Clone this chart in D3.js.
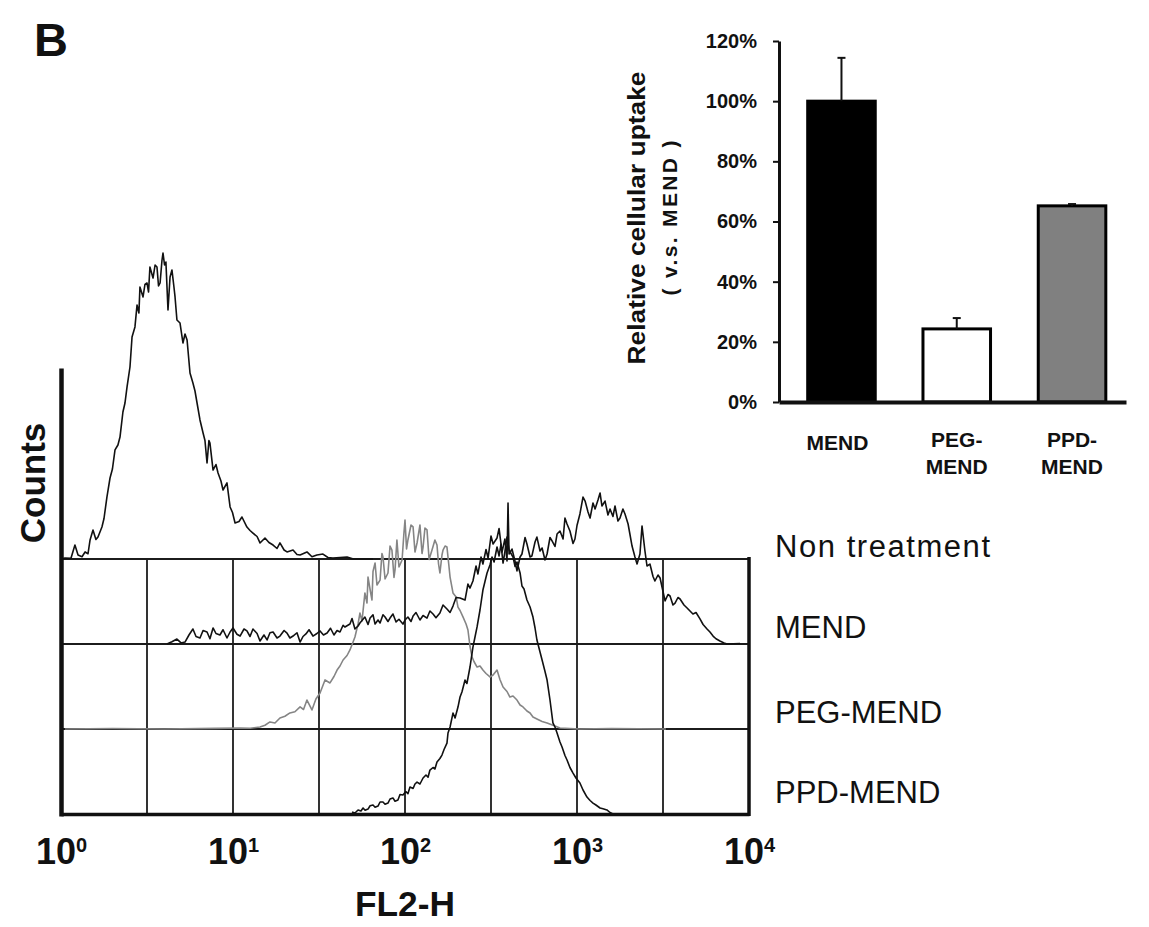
<!DOCTYPE html>
<html>
<head>
<meta charset="utf-8">
<script src="https://cdn.jsdelivr.net/npm/d3@7"></script>
<style>
  body { margin: 0; background: #fff; }
  svg { display: block; font-family: "Liberation Sans", Arial, sans-serif; }
</style>
</head>
<body>
<div id="figure"></div>
<script>
// ---- flow cytometry histograms: [log10(FL2-H), counts] ----
const traceNames = ["Non treatment", "MEND", "PEG-MEND", "PPD-MEND"];
const decades = [0, 1, 2, 3, 4];

const nonTreatment = [[0.000,0],[0.023,0.7],[0.058,0.5],[0.081,9.3],[0.099,2.7],[0.122,1.5],[0.140,4.7],[0.157,3.5],[0.169,12.7],[0.186,19.3],[0.203,13],[0.215,14.7],[0.238,21.3],[0.250,27],[0.267,41.3],[0.285,54],[0.299,60],[0.314,72.7],[0.331,76],[0.343,81.3],[0.360,98],[0.372,104],[0.384,114.7],[0.401,128],[0.413,148],[0.430,154.7],[0.442,169.3],[0.453,164],[0.459,181.3],[0.477,174.7],[0.488,183],[0.500,184],[0.509,178],[0.517,194.7],[0.535,187.3],[0.547,196],[0.558,194.7],[0.567,182],[0.576,184],[0.587,199],[0.593,204],[0.602,196],[0.610,198],[0.622,166],[0.634,188],[0.645,192.7],[0.657,181],[0.663,174.7],[0.674,159.3],[0.692,157.3],[0.709,144],[0.721,150],[0.733,146],[0.750,124],[0.767,117.3],[0.779,112],[0.791,104],[0.808,92.7],[0.826,84],[0.837,79],[0.849,64],[0.860,79],[0.866,77.3],[0.884,59.3],[0.901,63],[0.913,57.3],[0.930,52],[0.942,46],[0.965,50.7],[0.983,34.7],[0.997,31],[1.012,24],[1.035,25],[1.052,28],[1.081,21.3],[1.099,19],[1.116,17.3],[1.140,15],[1.157,10.7],[1.186,14],[1.209,11],[1.233,9.3],[1.256,7],[1.273,10.7],[1.297,6],[1.314,4.7],[1.349,6],[1.372,3],[1.390,2.7],[1.430,4.7],[1.459,1.5],[1.488,2.7],[1.523,3.3],[1.552,1],[1.581,0.7],[1.663,1.3],[1.700,0],[1.814,0]];

const mend = [[0.616,0],[0.645,1.5],[0.674,3.3],[0.698,0.7],[0.721,1.3],[0.744,6],[0.767,10],[0.785,5],[0.808,4],[0.826,9],[0.849,8],[0.866,3.5],[0.884,10.7],[0.901,7],[0.924,6],[0.942,9.5],[0.965,4],[0.983,8],[1.000,10.7],[1.023,6.5],[1.041,5.3],[1.064,10],[1.081,8.7],[1.099,5],[1.116,10],[1.140,7],[1.157,2],[1.180,6],[1.198,2.7],[1.215,7.5],[1.233,8],[1.256,4],[1.273,5.3],[1.297,9],[1.314,7.3],[1.331,4],[1.349,5.3],[1.372,7.5],[1.390,1.3],[1.407,5],[1.424,6.7],[1.442,9.5],[1.465,5.3],[1.488,7],[1.506,8.7],[1.526,6],[1.547,7.3],[1.567,10.5],[1.587,6],[1.605,9],[1.622,8],[1.640,12.5],[1.651,11.3],[1.680,13.3],[1.692,17],[1.709,10],[1.727,12],[1.738,14],[1.756,16.5],[1.767,18],[1.785,13],[1.797,17.3],[1.814,19.5],[1.826,13.3],[1.843,16],[1.855,14],[1.872,19.5],[1.884,18],[1.901,15],[1.913,17.3],[1.930,20],[1.948,14.7],[1.965,16.5],[1.988,13.3],[2.000,16],[2.017,18],[2.035,15],[2.047,18.7],[2.064,21],[2.087,16],[2.105,19],[2.128,17.3],[2.145,22],[2.163,20],[2.180,17.5],[2.203,20.7],[2.221,26],[2.244,23.3],[2.262,21],[2.279,25.3],[2.297,31],[2.320,30.7],[2.349,29.3],[2.366,40],[2.378,37.3],[2.395,42],[2.413,52],[2.424,46.7],[2.442,58],[2.453,53.3],[2.471,63],[2.483,57.3],[2.500,72],[2.512,66.7],[2.535,70.7],[2.547,77],[2.564,61.3],[2.581,70],[2.593,55.3],[2.599,94],[2.605,60],[2.622,63.3],[2.640,55],[2.651,48.7],[2.669,58],[2.680,60],[2.698,71],[2.709,66.7],[2.727,58],[2.738,58.7],[2.756,68],[2.767,71.3],[2.785,62],[2.797,64],[2.814,56],[2.826,60],[2.843,71],[2.855,68.7],[2.872,65],[2.884,73.3],[2.901,75.3],[2.919,70],[2.930,84],[2.942,80],[2.959,75.3],[2.977,67],[2.988,70],[3.000,79],[3.017,86.7],[3.035,98],[3.047,95.3],[3.064,88],[3.076,84],[3.093,94],[3.105,90],[3.122,96],[3.134,100.7],[3.145,92],[3.163,95.3],[3.180,86],[3.192,90],[3.209,85],[3.221,92],[3.238,82],[3.250,84],[3.267,90],[3.279,86.7],[3.297,80],[3.308,73],[3.320,65.3],[3.337,58],[3.349,53.3],[3.366,60],[3.378,78.7],[3.395,62],[3.407,52],[3.424,53.3],[3.442,45],[3.453,42],[3.471,46],[3.483,44],[3.500,35],[3.512,28.7],[3.529,33],[3.541,32],[3.558,26],[3.570,27.3],[3.587,31],[3.599,30],[3.622,26],[3.640,24],[3.657,22],[3.674,20],[3.692,21],[3.715,16.7],[3.733,13],[3.756,10],[3.773,8],[3.791,5.3],[3.808,3.5],[3.831,2],[3.855,0.7],[3.872,0],[3.948,0.3]];

const pegMend = [[0.023,0],[0.300,0.3],[0.600,0],[0.900,0.4],[1.041,0.7],[1.100,0.5],[1.157,1.3],[1.186,2.5],[1.215,4.7],[1.244,4],[1.273,7.3],[1.302,8.5],[1.331,10.7],[1.360,11.5],[1.390,14.7],[1.410,13],[1.430,19.3],[1.459,12.7],[1.482,20],[1.506,24],[1.535,32.7],[1.564,30.7],[1.587,35],[1.605,39.3],[1.622,42],[1.640,46],[1.663,49],[1.680,52.7],[1.698,58],[1.709,61.3],[1.727,70],[1.738,77.3],[1.750,72],[1.767,90.7],[1.779,84],[1.785,101.3],[1.797,93],[1.808,86],[1.814,105],[1.826,110.7],[1.837,96],[1.855,99.3],[1.866,117],[1.872,114.7],[1.884,100],[1.901,104],[1.913,122],[1.924,119.3],[1.936,101],[1.942,106],[1.953,126],[1.965,108],[1.983,112.7],[1.994,131],[2.000,139.3],[2.009,120],[2.017,126],[2.035,136],[2.047,134.7],[2.058,118],[2.070,124],[2.087,136],[2.099,117],[2.105,121.3],[2.116,134],[2.128,132.7],[2.140,113],[2.157,119.3],[2.174,126],[2.186,122.7],[2.195,110],[2.203,104],[2.215,116],[2.221,119.3],[2.233,122],[2.244,121.3],[2.256,108],[2.262,101.3],[2.279,90.7],[2.297,88],[2.308,81.3],[2.320,79],[2.337,74.7],[2.355,70],[2.366,66],[2.378,55],[2.390,48],[2.401,45],[2.419,41.3],[2.436,42],[2.453,39.3],[2.471,37],[2.494,34.7],[2.512,36],[2.535,39.3],[2.552,33],[2.570,28],[2.593,25],[2.610,21.3],[2.628,22],[2.651,19.3],[2.669,16],[2.686,14.7],[2.709,12],[2.727,10.7],[2.744,8],[2.767,6.7],[2.797,5],[2.826,4],[2.849,3],[2.872,2],[2.901,0.7],[3.017,0],[3.200,0.3],[3.517,0]];

const ppdMend = [[1.692,1.3],[1.709,0.7],[1.727,2.7],[1.744,2],[1.756,4],[1.768,2.5],[1.785,3.3],[1.797,5.5],[1.814,6],[1.826,4.5],[1.843,5.3],[1.855,8],[1.872,8],[1.884,6.5],[1.901,7.3],[1.913,10],[1.930,10.7],[1.942,8.5],[1.959,9.3],[1.971,13],[1.988,12.7],[2.005,15],[2.017,13.5],[2.029,18],[2.047,17],[2.058,20],[2.070,21.3],[2.087,20],[2.105,24],[2.122,26],[2.134,24.5],[2.145,29.3],[2.163,31],[2.174,30],[2.186,34.7],[2.203,37],[2.215,39.3],[2.227,43],[2.244,47.3],[2.250,54],[2.262,58],[2.279,67.3],[2.291,64],[2.308,71.3],[2.320,78],[2.331,81.3],[2.349,89.3],[2.360,87],[2.378,98],[2.395,111.3],[2.407,118],[2.419,124.7],[2.436,136],[2.453,149.3],[2.465,155],[2.477,160.7],[2.494,166],[2.506,171.3],[2.518,168],[2.535,178],[2.547,172],[2.558,180],[2.570,167.3],[2.581,175],[2.593,184.7],[2.605,176],[2.628,171.3],[2.640,165],[2.651,168],[2.669,160.7],[2.680,152],[2.692,150],[2.709,142.7],[2.727,138],[2.744,131.3],[2.756,124],[2.767,116],[2.785,108],[2.797,102.7],[2.814,95],[2.826,89.3],[2.843,76],[2.860,60.7],[2.872,58],[2.884,54],[2.901,48],[2.913,44.7],[2.930,39],[2.942,36],[2.959,31],[2.977,27.3],[2.994,24],[3.017,20.7],[3.035,16],[3.058,11.3],[3.076,9],[3.093,7.3],[3.110,6],[3.134,4],[3.151,3.5],[3.174,2.7],[3.192,1],[3.209,0]];

// ---- inset bar chart ----
const barCategories = ["MEND", "PEG-MEND", "PPD-MEND"];
const barLabelLines = [["MEND"], ["PEG-", "MEND"], ["PPD-", "MEND"]];
const uptakeValues = [100, 24.3, 65.2];
const uptakeErrors = [14.4, 3.6, 0.6];
const uptakeTicks = [0, 20, 40, 60, 80, 100, 120];


class OverlayHistogram {
  constructor(svg, traces, names) {
    this.svg = svg;
    this.traces = traces;
    this.names = names;
    this.left = 61;
    this.right = 749;
    this.top = 559;
    this.bottom = 814;
    this.axisTop = 368;
    this.draw();
  }

  draw() {
    this.x = d3.scaleLinear().domain([0, 4]).range([this.left, this.right]);
    this.base = d3.scalePoint().domain(this.names).range([this.top, this.bottom]);
    this.h = d3.scaleLinear().domain([0, 200]).range([0, 300]);
    this.plot = this.svg.append("g");

    this.drawGrid();
    this.drawTraces();
    this.createAxes();
    this.drawLabels();
  }

  drawGrid() {
    var grid = this.plot.append("g")
      .attr("stroke", "#1c1c1c")
      .attr("stroke-width", 1.8);
    grid.selectAll(".hline").data(this.names.slice(0, 3)).enter()
      .append("line")
        .attr("x1", this.left).attr("x2", this.right)
        .attr("y1", d => this.base(d)).attr("y2", d => this.base(d));
    grid.selectAll(".vline").data(d3.range(0.5, 4, 0.5)).enter()
      .append("line")
        .attr("x1", d => this.x(d)).attr("x2", d => this.x(d))
        .attr("y1", this.top).attr("y2", this.bottom);
  }

  drawTraces() {
    var self = this;
    // gray one first so the black curves sit on top
    var order = [2, 0, 1, 3];
    order.forEach(function(i) {
      var name = self.names[i];
      var line = d3.line()
        .x(d => self.x(d[0]))
        .y(d => self.base(name) - self.h(d[1]));
      self.plot.append("path")
        .datum(self.traces[i])
        .attr("fill", "none")
        .attr("stroke", i == 2 ? "#858585" : "#111")
        .attr("stroke-width", 1.6)
        .attr("stroke-linejoin", "round")
        .attr("d", line);
    });
  }

  createAxes() {
    this.xAxisCall = d3.axisBottom(this.x)
      .tickValues(decades)
      .tickSize(0)
      .tickSizeOuter(0);
    this.xAxis = this.plot.append("g")
      .attr("transform", "translate(0," + this.bottom + ")")
      .call(this.xAxisCall);
    this.xAxis.select(".domain").attr("stroke", "#111").attr("stroke-width", 3.5);

    // 10 with a raised exponent
    this.xAxis.selectAll(".tick text").each(function(d) {
      var t = d3.select(this).text(null)
        .attr("y", 50).attr("dy", 0)
        .attr("fill", "#111")
        .attr("font-weight", "bold")
        .attr("font-family", "Liberation Sans, Arial, sans-serif");
      t.append("tspan").attr("font-size", 36).text("10");
      t.append("tspan").attr("font-size", 20).attr("dy", -12).text(d);
    });

    var countRange = d3.scaleLinear().range([this.axisTop, this.bottom + 2]);
    this.yAxis = this.plot.append("g")
      .attr("transform", "translate(" + this.left + ",0)")
      .call(d3.axisLeft(countRange).tickValues([]).tickSizeOuter(0));
    this.yAxis.select(".domain").attr("stroke", "#111").attr("stroke-width", 4.5);

    this.plot.append("line")
      .attr("x1", this.right).attr("x2", this.right)
      .attr("y1", this.top - 2).attr("y2", this.bottom + 2)
      .attr("stroke", "#111").attr("stroke-width", 3.5);
  }

  drawLabels() {
    var self = this;
    var lift = [2, 6, 6, 11];
    this.plot.selectAll(".trace-label").data(this.names).enter()
      .append("text")
        .attr("x", 775)
        .attr("y", (d, i) => self.base(d) - lift[i])
        .attr("font-size", 31)
        .attr("fill", "#111")
        .attr("textLength", (d, i) => i == 0 ? 215 : null)
        .text(d => d);

    this.plot.append("text")
      .attr("transform", "translate(45,483) rotate(-90)")
      .attr("text-anchor", "middle")
      .attr("font-size", 35).attr("font-weight", "bold").attr("fill", "#111")
      .text("Counts");

    this.plot.append("text")
      .attr("x", this.x(2)).attr("y", 916)
      .attr("text-anchor", "middle")
      .attr("font-size", 35).attr("font-weight", "bold").attr("fill", "#111")
      .attr("textLength", 100).attr("lengthAdjust", "spacingAndGlyphs")
      .text("FL2-H");
  }
}


class UptakeBarChart {
  constructor(svg, categories, values, errors) {
    this.svg = svg;
    this.categories = categories;
    this.values = values;
    this.errors = errors;
    this.draw();
  }

  draw() {
    this.x = d3.scaleBand().domain(this.categories).range([779, 1126])
      .paddingInner(0.414).paddingOuter(0.212).align(0.587);
    this.y = d3.scaleLinear().domain([0, 120]).range([402, 41]);
    this.plot = this.svg.append("g");

    var x = this.x, y = this.y, values = this.values, errors = this.errors;
    var fills = ["#000", "#fff", "#808080"];

    this.plot.selectAll(".bar").data(this.categories).enter()
      .append("rect")
        .attr("x", d => x(d))
        .attr("y", (d, i) => y(values[i]))
        .attr("width", x.bandwidth())
        .attr("height", (d, i) => y(0) - y(values[i]))
        .attr("fill", (d, i) => fills[i])
        .attr("stroke", "#000")
        .attr("stroke-width", 3);

    var err = this.plot.append("g").attr("stroke", "#111").attr("stroke-width", 2);
    err.selectAll(".err").data(this.categories).enter()
      .append("line")
        .attr("x1", d => x(d) + x.bandwidth() / 2).attr("x2", d => x(d) + x.bandwidth() / 2)
        .attr("y1", (d, i) => y(values[i])).attr("y2", (d, i) => y(values[i] + errors[i]));
    err.selectAll(".cap").data(this.categories).enter()
      .append("line")
        .attr("x1", d => x(d) + x.bandwidth() / 2 - 4).attr("x2", d => x(d) + x.bandwidth() / 2 + 4)
        .attr("y1", (d, i) => y(values[i] + errors[i])).attr("y2", (d, i) => y(values[i] + errors[i]));

    this.createAxes();
  }

  createAxes() {
    var x = this.x;
    this.yAxis = this.plot.append("g")
      .attr("transform", "translate(779,0)")
      .call(d3.axisLeft(this.y).tickValues(uptakeTicks).tickSize(6).tickPadding(16)
        .tickSizeOuter(0).tickFormat(d => d + "%"));
    this.yAxis.select(".domain").attr("stroke", "#111").attr("stroke-width", 3);
    this.yAxis.selectAll(".tick line").attr("stroke", "#111").attr("stroke-width", 2);
    this.yAxis.selectAll(".tick text")
      .attr("font-size", 20).attr("font-weight", "bold").attr("fill", "#111")
      .attr("font-family", "Liberation Sans, Arial, sans-serif");

    this.xAxis = this.plot.append("g")
      .attr("transform", "translate(0,402)")
      .call(d3.axisBottom(x).tickSize(0).tickSizeOuter(0).tickFormat(""));
    this.xAxis.select(".domain").attr("stroke", "#111").attr("stroke-width", 4);

    var labels = this.plot.selectAll(".cat").data(this.categories).enter()
      .append("text")
        .attr("text-anchor", "middle")
        .attr("font-size", 21).attr("font-weight", "bold").attr("fill", "#111");
    labels.each(function(d, i) {
      var lines = barLabelLines[i];
      var t = d3.select(this);
      lines.forEach(function(s, j) {
        t.append("tspan")
          .attr("x", x(d) + x.bandwidth() / 2 - (lines.length == 1 ? 4 : 0))
          .attr("y", (lines.length == 1 ? 450 : 447) + j * 26.5)
          .text(s);
      });
    });

    this.plot.append("text")
      .attr("transform", "translate(645,218) rotate(-90)")
      .attr("text-anchor", "middle")
      .attr("font-size", 23).attr("font-weight", "bold").attr("fill", "#111")
      .attr("textLength", 293).attr("lengthAdjust", "spacingAndGlyphs")
      .text("Relative cellular uptake");
    this.plot.append("text")
      .attr("transform", "translate(677,218) rotate(-90)")
      .attr("text-anchor", "middle")
      .attr("font-size", 21).attr("font-weight", "bold").attr("fill", "#111")
      .attr("textLength", 155)
      .text("( v.s. MEND )");
  }
}


const svg = d3.select("#figure").append("svg")
  .attr("width", 1149)
  .attr("height", 927);

svg.append("rect").attr("width", 1149).attr("height", 927).attr("fill", "#fff");

svg.append("text")
  .attr("x", 34).attr("y", 56)
  .attr("font-size", 47).attr("font-weight", "bold").attr("fill", "#111")
  .text("B");

const histogram = new OverlayHistogram(svg, [nonTreatment, mend, pegMend, ppdMend], traceNames);
const bars = new UptakeBarChart(svg, barCategories, uptakeValues, uptakeErrors);
</script>
</body>
</html>
